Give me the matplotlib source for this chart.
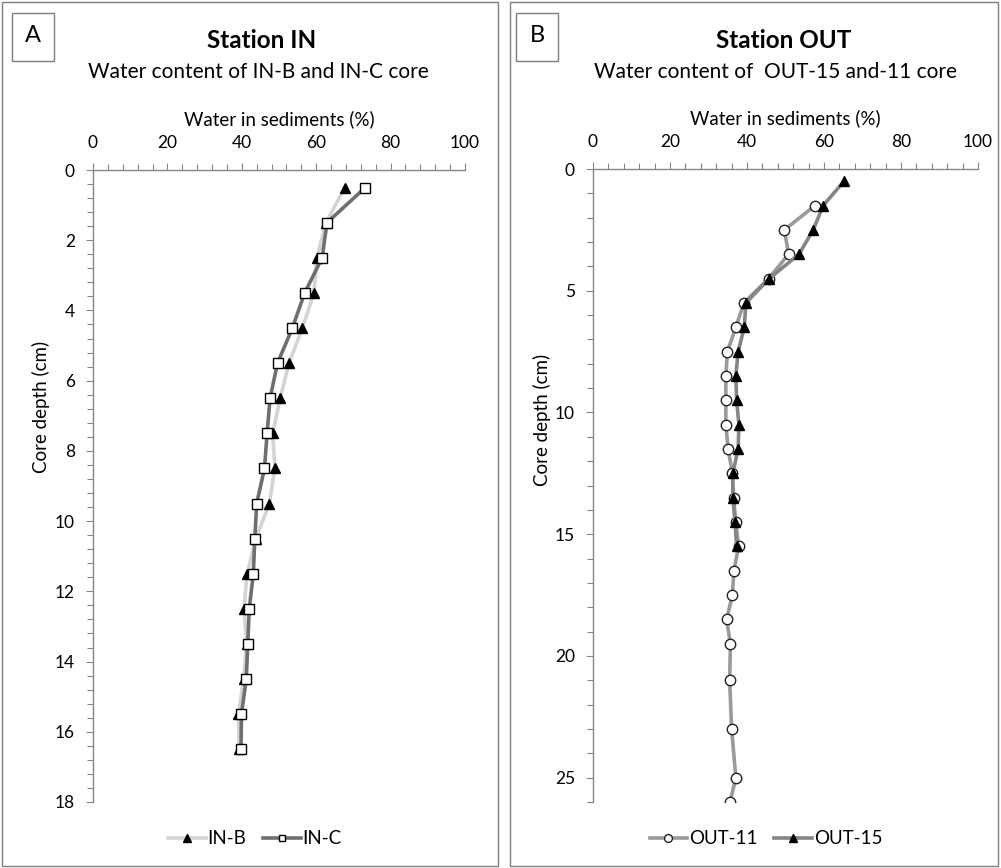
import matplotlib
matplotlib.use("Agg")
import matplotlib.pyplot as plt
from matplotlib.patches import Rectangle
from matplotlib.ticker import MultipleLocator

plt.rcParams['font.family'] = ['Lato', 'DejaVu Sans']

# ---- Data: panel A (Station IN) ----
depth_in = [0.5, 1.5, 2.5, 3.5, 4.5, 5.5, 6.5, 7.5, 8.5, 9.5, 10.5, 11.5, 12.5, 13.5, 14.5, 15.5, 16.5]
in_b = [67.7, 62.6, 60.2, 59.4, 56.3, 52.7, 50.3, 48.3, 48.9, 47.4, 43.8, 41.4, 40.6, 41.3, 40.5, 39.1, 39.3]
in_c = [73.2, 62.9, 61.6, 56.9, 53.6, 49.6, 47.6, 46.8, 46.1, 44.0, 43.5, 43.1, 42.0, 41.6, 41.2, 39.9, 39.8]

# ---- Data: panel B (Station OUT) ----
depth_out11 = [1.5, 2.5, 3.5, 4.5, 5.5, 6.5, 7.5, 8.5, 9.5, 10.5, 11.5, 12.5, 13.5, 14.5, 15.5,
               16.5, 17.5, 18.5, 19.5, 21, 23, 25, 26]
out_11 = [57.7, 49.7, 50.8, 45.6, 39.2, 37.1, 34.9, 34.5, 34.5, 34.5, 35.1, 36.2, 36.5, 37.1, 37.8,
          36.6, 36.2, 34.7, 35.7, 35.5, 36.0, 37.1, 35.6]
depth_out15 = [0.5, 1.5, 2.5, 3.5, 4.5, 5.5, 6.5, 7.5, 8.5, 9.5, 10.5, 11.5, 12.5, 13.5, 14.5, 15.5]
out_15 = [65.2, 59.8, 57.2, 53.5, 45.8, 39.7, 39.3, 37.7, 37.1, 37.3, 37.9, 37.7, 36.3, 36.3, 36.9, 37.3]

W, H = 1001, 868
fig = plt.figure(figsize=(W / 100, H / 100), dpi=100)

def fx(px):
    return px / W

def fy(py):
    return 1 - py / H

# panel borders
fig.patches.append(Rectangle((fx(2), fy(866)), fx(496), 864 / H, transform=fig.transFigure,
                             fill=False, edgecolor='#7f7f7f', linewidth=1.0))
fig.patches.append(Rectangle((fx(510), fy(866)), fx(488), 864 / H, transform=fig.transFigure,
                             fill=False, edgecolor='#7f7f7f', linewidth=1.0))
# letter boxes
for x0, letter in [(12, 'A'), (516, 'B')]:
    fig.patches.append(Rectangle((fx(x0), fy(61)), fx(42), 48 / H, transform=fig.transFigure,
                                 fill=False, edgecolor='#7f7f7f', linewidth=1.0))
    fig.text(fx(x0 + 21), fy(36), letter, ha='center', va='center', fontsize=17, color='black')

spine_col = '#868686'
TICK_FS = 12.5
LABEL_FS = 13.5

def style_axes(ax, xmax, ymax, ymaj, ymin):
    ax.set_xlim(0, xmax)
    ax.set_ylim(ymax, 0)
    ax.xaxis.set_ticks_position('top')
    ax.xaxis.set_label_position('top')
    ax.spines['right'].set_visible(False)
    ax.spines['bottom'].set_visible(False)
    for s in ('left', 'top'):
        ax.spines[s].set_color(spine_col)
        ax.spines[s].set_linewidth(1.0)
    ax.xaxis.set_major_locator(MultipleLocator(20))
    ax.xaxis.set_minor_locator(MultipleLocator(4))
    ax.yaxis.set_major_locator(MultipleLocator(ymaj))
    ax.yaxis.set_minor_locator(MultipleLocator(ymin))
    ax.tick_params(which='both', color=spine_col, direction='out', width=0.8)
    ax.tick_params(which='major', length=5)
    ax.tick_params(which='minor', length=4)
    ax.tick_params(axis='x', which='major', pad=9, labelsize=TICK_FS)
    ax.tick_params(axis='y', which='major', pad=8, labelsize=TICK_FS)
    ax.set_xlabel('Water in sediments (%)', fontsize=LABEL_FS, labelpad=7)
    ax.set_ylabel('Core depth (cm)', fontsize=LABEL_FS)

# ---- Panel A ----
axA = fig.add_axes([fx(93), fy(802), fx(372), 632 / H])
style_axes(axA, 100, 18, 2, 0.4)
axA.plot(in_b, depth_in, color='#d4d4d4', linewidth=2.6, marker='^', markersize=7,
         markerfacecolor='black', markeredgecolor='black', label='IN-B')
axA.plot(in_c, depth_in, color='#6f6f6f', linewidth=2.6, marker='s', markersize=6.5,
         markerfacecolor='white', markeredgecolor='black', markeredgewidth=1.0, label='IN-C')
axA.yaxis.set_label_coords(-0.115, 0.625)
fig.text(fx(262), fy(40), 'Station IN', ha='center', va='center', fontsize=17.5, fontweight='bold')
fig.text(fx(258), fy(72), 'Water content of IN-B and IN-C core', ha='center', va='center', fontsize=15)
axA.legend(loc='center', bbox_to_anchor=(fx(255), fy(839)), bbox_transform=fig.transFigure,
           ncol=2, frameon=False, fontsize=13.5, handlelength=2.0, handletextpad=0.1,
           columnspacing=0.9, markerscale=0.75)

# ---- Panel B ----
axB = fig.add_axes([fx(593), fy(802), fx(385), 633 / H])
style_axes(axB, 100, 26, 5, 1)
axB.plot(out_11, depth_out11, color='#9a9a9a', linewidth=2.6, marker='o', markersize=7.5,
         markerfacecolor='white', markeredgecolor='#222222', markeredgewidth=1.0, label='OUT-11')
axB.plot(out_15, depth_out15, color='#858585', linewidth=2.6, marker='^', markersize=7.5,
         markerfacecolor='black', markeredgecolor='black', label='OUT-15')
axB.yaxis.set_label_coords(-0.11, 0.603)
fig.text(fx(784), fy(40), 'Station OUT', ha='center', va='center', fontsize=17.5, fontweight='bold')
fig.text(fx(775), fy(72), 'Water content of  OUT-15 and-11 core', ha='center', va='center', fontsize=15)
axB.legend(loc='center', bbox_to_anchor=(fx(766), fy(839)), bbox_transform=fig.transFigure,
           ncol=2, frameon=False, fontsize=13.5, handlelength=2.0, handletextpad=0.1,
           columnspacing=0.9, markerscale=0.75)

fig.savefig('out.png', dpi=100)
